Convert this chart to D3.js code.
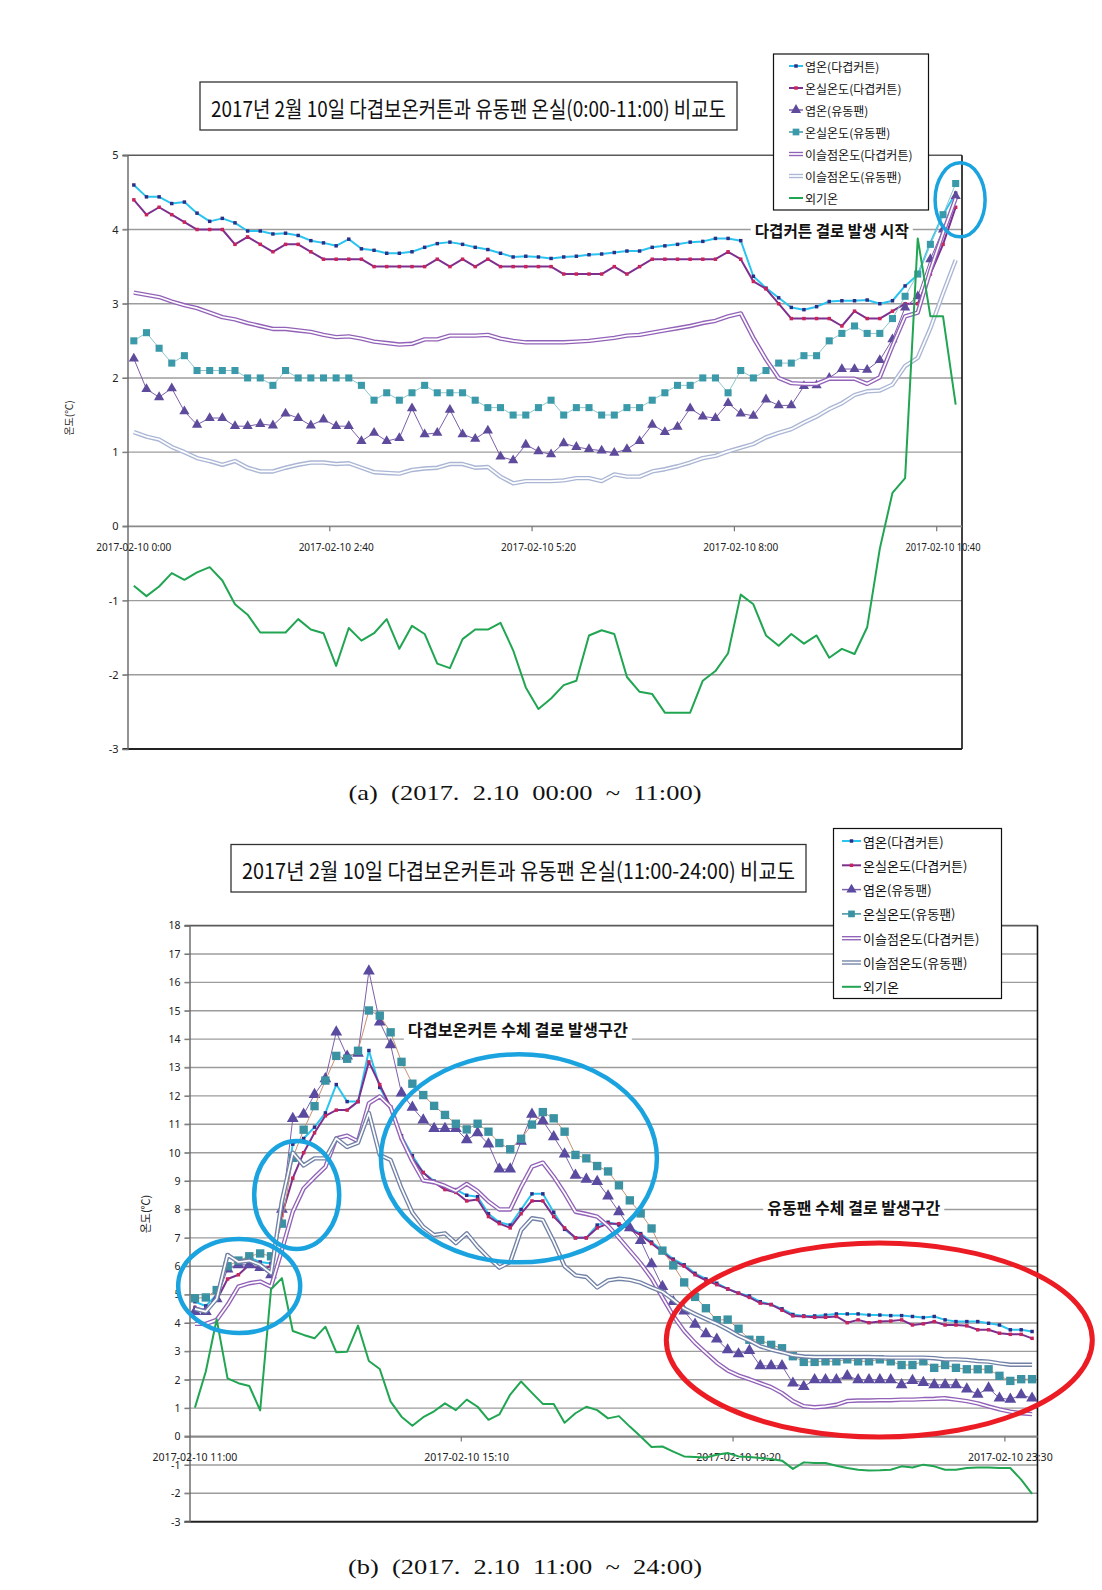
<!DOCTYPE html>
<html><head><meta charset="utf-8">
<script src="https://cdn.jsdelivr.net/npm/d3@7"></script>
<style>body{margin:0;background:#fff}svg{display:block}</style>
</head><body>
<svg id="c" width="1102" height="1590"></svg>
<script>
// ---------- DATA ----------
const seriesNames = ["엽온(다겹커튼)","온실온도(다겹커튼)","엽온(유동팬)","온실온도(유동팬)","이슬점온도(다겹커튼)","이슬점온도(유동팬)","외기온"];
function timeCats(startMin, n){ return d3.range(n).map(i=>{const m=startMin+i*10; return "2017-02-10 "+Math.floor(m/60)+":"+String(m%60).padStart(2,"0");}); }
const catsA = timeCats(0, 66);
const catsB = timeCats(660, 78);
const tickLabelsA = ["2017-02-10 0:00","2017-02-10 2:40","2017-02-10 5:20","2017-02-10 8:00","2017-02-10 10:40"];
const tickLabelsB = ["2017-02-10 11:00","2017-02-10 15:10","2017-02-10 19:20","2017-02-10 23:30"];
const yTicksA = [-3,-2,-1,0,1,2,3,4,5];
const yTicksB = d3.range(-3,19);

// chart (a) 0:00-10:50
const leafCurtainA = [4.60,4.44,4.44,4.35,4.37,4.22,4.11,4.15,4.09,3.98,3.98,3.94,3.95,3.92,3.85,3.82,3.78,3.87,3.74,3.72,3.68,3.68,3.70,3.76,3.81,3.83,3.80,3.76,3.73,3.68,3.63,3.64,3.63,3.61,
 3.63,3.64,3.66,3.67,3.69,3.71,3.71,3.76,3.78,3.80,3.83,3.84,3.88,3.88,3.85,3.37,3.21,3.08,2.95,2.92,2.96,3.03,3.04,3.04,3.05,3.00,3.04,3.24,3.39,3.82,4.20,4.49];
const airCurtainA = [4.40,4.20,4.30,4.20,4.10,4.00,4.00,4.00,3.80,3.90,3.80,3.70,3.80,3.80,3.70,3.60,3.60,3.60,3.60,3.50,3.50,3.50,3.50,3.50,3.60,3.50,3.60,3.50,3.60,3.50,3.50,3.50,3.50,3.50,
 3.40,3.40,3.40,3.40,3.50,3.40,3.50,3.60,3.60,3.60,3.60,3.60,3.60,3.70,3.60,3.30,3.20,3.00,2.80,2.80,2.80,2.80,2.70,2.90,2.80,2.80,2.90,3.00,3.00,3.40,3.80,4.30];
const leafFanA = [2.26,1.85,1.74,1.86,1.55,1.37,1.46,1.46,1.35,1.35,1.38,1.36,1.52,1.46,1.36,1.44,1.35,1.35,1.15,1.26,1.15,1.19,1.59,1.24,1.26,1.57,1.24,1.18,1.29,0.94,0.89,1.10,1.01,0.97,
 1.12,1.07,1.04,1.02,0.99,1.04,1.15,1.37,1.27,1.34,1.59,1.48,1.46,1.66,1.52,1.49,1.71,1.63,1.63,1.89,1.90,2.00,2.12,2.12,2.11,2.24,2.52,2.95,3.10,3.60,4.00,4.45];
const airFanA = [2.50,2.61,2.40,2.20,2.30,2.10,2.10,2.10,2.10,2.00,2.00,1.90,2.10,2.00,2.00,2.00,2.00,2.00,1.90,1.70,1.80,1.70,1.80,1.90,1.80,1.80,1.80,1.70,1.60,1.60,1.50,1.50,1.60,1.70,
 1.50,1.60,1.60,1.50,1.50,1.60,1.60,1.70,1.80,1.90,1.90,2.00,2.00,1.80,2.10,2.00,2.10,2.20,2.20,2.30,2.30,2.50,2.60,2.70,2.60,2.60,2.80,3.10,3.40,3.80,4.20,4.62];
const dewCurtainA = [3.15,3.12,3.09,3.03,2.98,2.94,2.88,2.82,2.79,2.74,2.70,2.66,2.66,2.64,2.62,2.58,2.55,2.56,2.53,2.49,2.47,2.45,2.46,2.52,2.52,2.57,2.57,2.57,2.58,2.53,2.50,2.48,2.48,2.48,
 2.48,2.49,2.50,2.52,2.54,2.57,2.58,2.61,2.64,2.67,2.70,2.74,2.77,2.83,2.87,2.54,2.25,2.00,1.93,1.92,1.92,1.99,1.99,1.99,1.92,2.01,2.43,2.83,2.88,3.45,3.95,4.42];
const dewFanA = [1.27,1.21,1.17,1.07,1.00,0.92,0.88,0.83,0.88,0.79,0.74,0.74,0.79,0.83,0.86,0.86,0.84,0.85,0.79,0.73,0.72,0.71,0.76,0.78,0.79,0.84,0.84,0.79,0.80,0.67,0.58,0.61,0.61,0.61,
 0.62,0.65,0.65,0.61,0.70,0.67,0.67,0.74,0.77,0.81,0.86,0.92,0.95,1.01,1.06,1.11,1.20,1.26,1.31,1.40,1.48,1.58,1.66,1.77,1.82,1.83,1.91,2.16,2.27,2.67,3.14,3.59];
const outsideA = [-0.80,-0.94,-0.81,-0.63,-0.72,-0.62,-0.55,-0.73,-1.05,-1.19,-1.43,-1.43,-1.43,-1.25,-1.39,-1.44,-1.88,-1.37,-1.54,-1.44,-1.25,-1.65,-1.34,-1.45,-1.85,-1.91,-1.52,-1.39,-1.39,-1.30,-1.67,-2.17,-2.46,-2.32,
 -2.14,-2.08,-1.47,-1.40,-1.45,-2.03,-2.23,-2.26,-2.51,-2.51,-2.51,-2.08,-1.95,-1.71,-0.92,-1.05,-1.47,-1.61,-1.45,-1.58,-1.47,-1.77,-1.65,-1.72,-1.36,-0.30,0.45,0.65,3.88,2.83,2.83,1.64];

// chart (b) 11:00-23:50
const leafCurtainB = [4.75,4.60,5.00,6.40,6.20,6.30,6.15,6.10,8.00,10.3, 10.5,10.9,11.4,12.4,11.8,11.8,13.6,12.3,11.6,10.6,
 9.90,9.30,9.00,8.80,8.70,8.50,8.45,7.85,7.55,7.45, 8.00,8.55,8.55,7.90,7.30,7.00,7.00,7.45,7.55,7.45,
 7.35,7.15,6.85,6.55,6.25,6.05,5.75,5.55,5.40,5.20, 5.05,4.95,4.75,4.65,4.50,4.30,4.25,4.25,4.28,4.32,
 4.32,4.32,4.28,4.28,4.26,4.26,4.23,4.19,4.23,4.11, 4.05,4.05,4.05,3.99,3.93,3.76,3.76,3.70];
const airCurtainB = [4.55,4.45,4.80,5.55,5.70,6.05,5.90,6.00,7.80,9.10, 10.0,10.7,11.3,11.5,11.5,11.8,13.2,12.4,11.6,10.5,
 9.80,9.30,8.95,8.70,8.60,8.30,8.35,7.75,7.50,7.35, 7.85,8.30,8.30,7.75,7.35,7.00,7.00,7.35,7.50,7.50,
 7.30,7.10,6.80,6.50,6.20,6.00,5.70,5.50,5.35,5.20, 5.05,4.90,4.70,4.65,4.45,4.25,4.23,4.20,4.20,4.23,
 4.01,4.11,4.01,4.05,4.07,4.11,3.93,3.97,4.05,3.93, 3.93,3.90,3.76,3.76,3.64,3.60,3.60,3.46];
const leafFanB = [4.40,4.40,4.85,5.90,6.05,6.05,5.95,5.70,8.00,11.2, 11.35,12.05,12.6,14.25,13.4,13.5,16.4,14.6,13.8,12.1,
 11.6,11.15,10.85,10.85,10.85,10.45,10.7,10.3,9.42,9.42, 10.4,11.35,11.12,10.56,9.95,9.20,9.06,8.98,8.47,7.92,
 7.35,6.90,6.08,5.28,4.75,4.42,3.95,3.62,3.43,3.05, 2.91,3.03,2.49,2.49,2.49,1.88,1.76,2.00,2.00,2.00,
 2.14,2.00,2.00,2.00,2.00,1.82,1.97,1.90,1.82,1.82, 1.82,1.67,1.49,1.71,1.35,1.31,1.47,1.35];
const airFanB = [4.87,4.90,5.16,6.00,6.20,6.35,6.45,6.35,7.50,9.82, 10.81,11.64,12.54,13.41,13.31,13.59,15.01,14.83,14.24,13.2,
 12.43,12.03,11.65,11.33,11.02,10.82,11.02,10.74,10.34,10.12, 10.49,10.99,11.43,11.21,10.74,9.92,9.80,9.53,9.34,8.85,
 8.32,7.86,7.33,6.55,6.03,5.43,4.92,4.52,4.10,4.12, 3.80,3.41,3.40,3.23,3.11,2.83,2.63,2.63,2.65,2.65,
 2.72,2.65,2.65,2.72,2.65,2.52,2.52,2.65,2.42,2.52, 2.42,2.37,2.37,2.37,2.14,1.96,2.02,2.02];
const dewCurtainB = [3.97,3.97,4.11,4.64,5.28,5.40,5.46,5.28,6.57,7.92, 8.74,9.13,9.50,10.5,10.6,10.4,11.74,11.98,11.61,10.5,
 9.70,9.02,8.96,8.83,8.65,8.90,8.65,8.28,8.00,8.00, 8.80,9.51,9.65,9.15,8.57,7.92,7.84,7.75,7.42,7.00,
 6.55,6.10,5.58,4.90,4.25,3.72,3.30,2.95,2.60,2.33, 2.15,2.02,1.88,1.74,1.53,1.25,1.07,1.03,1.06,1.12,
 1.25,1.27,1.27,1.28,1.28,1.30,1.30,1.32,1.33,1.35, 1.30,1.25,1.17,1.06,0.96,0.88,0.82,0.79];
const dewFanB = [4.50,4.40,4.85,6.40,6.15,6.20,6.05,5.75,8.30,10.0, 9.55,9.80,9.80,10.5,10.2,10.35,11.4,9.92,9.74,8.74,
 7.89,7.39,7.10,7.16,6.81,7.16,6.69,6.30,5.95,6.15, 7.27,7.69,7.63,6.87,6.00,5.68,5.62,5.25,5.50,5.56,
 5.52,5.42,5.25,5.10,4.82,4.51,4.32,4.14,3.97,3.77, 3.55,3.38,3.18,3.06,2.97,2.87,2.82,2.80,2.80,2.80,
 2.80,2.80,2.80,2.79,2.78,2.78,2.78,2.78,2.76,2.72, 2.72,2.70,2.66,2.64,2.58,2.53,2.53,2.53];
const outsideB = [1.02,2.29,4.13,2.05,1.88,1.78,0.92,5.19,5.58,3.72, 3.58,3.46,3.87,2.97,2.99,3.91,2.66,2.38,1.23,0.70,
 0.38,0.68,0.89,1.17,0.93,1.30,1.05,0.59,0.78,1.48, 1.94,1.54,1.15,1.15,0.49,0.82,1.05,0.93,0.64,0.72,
 0.35,0.00,-0.37,-0.35,-0.53,-0.70,-0.72,-0.74,-0.64,-0.58, -0.70,-0.72,-0.76,-0.79,-0.85,-1.14,-0.91,-0.93,-0.93,-1.03,
 -1.11,-1.17,-1.20,-1.19,-1.17,-1.05,-1.09,-0.99,-1.05,-1.17, -1.17,-1.11,-1.09,-1.09,-1.11,-1.11,-1.52,-2.02];

// ---------- DRAW ----------
const KR = '"Noto Sans CJK KR","Noto Sans",sans-serif';
const svg = d3.select("#c");
svg.append("rect").attr("width",1102).attr("height",1590).attr("fill","#fff");

function squeeze(t, width){ t.attr("textLength",width).attr("lengthAdjust","spacingAndGlyphs"); }

function drawChart(cfg){
  const g = svg.append("g");
  const x = d3.scaleBand().domain(cfg.cats).range([cfg.left,cfg.right]).padding(0);
  const y = d3.scaleLinear().domain([cfg.ymin,cfg.ymax]).range([cfg.bottom,cfg.top]);
  const cx = i => x(cfg.cats[i]) + x.bandwidth()/2;

  // gridlines
  g.append("g").selectAll("line").data(cfg.yTicks.filter(t=>t!==cfg.ymin&&t!==cfg.ymax&&t!==0)).join("line")
    .attr("x1",cfg.left-5).attr("x2",cfg.right).attr("y1",d=>y(d)).attr("y2",d=>y(d))
    .attr("stroke","#9c9c9c").attr("stroke-width",1.4);
  // plot border
  g.append("line").attr("x1",cfg.left-5).attr("x2",cfg.right).attr("y1",y(cfg.ymax)).attr("y2",y(cfg.ymax)).attr("stroke","#5a5a5a").attr("stroke-width",1.6);
  g.append("line").attr("x1",cfg.right).attr("x2",cfg.right).attr("y1",y(cfg.ymax)).attr("y2",y(cfg.ymin)).attr("stroke","#111").attr("stroke-width",1.6);
  g.append("line").attr("x1",cfg.left-5).attr("x2",cfg.right).attr("y1",y(cfg.ymin)).attr("y2",y(cfg.ymin)).attr("stroke","#222").attr("stroke-width",2);
  // zero (category) axis
  g.append("line").attr("x1",cfg.left-5).attr("x2",cfg.right).attr("y1",y(0)).attr("y2",y(0)).attr("stroke","#8a8a8a").attr("stroke-width",cfg.zeroW);
  // category tick marks at boundaries
  g.append("g").selectAll("line").data(cfg.tickIdx.filter(i=>i>0)).join("line")
    .attr("x1",i=>x(cfg.cats[i])).attr("x2",i=>x(cfg.cats[i])).attr("y1",y(0)).attr("y2",y(0)+5)
    .attr("stroke","#777").attr("stroke-width",1.2);
  // y axis
  const ay = g.append("g").attr("transform",`translate(${cfg.left},0)`)
    .call(d3.axisLeft(y).tickValues(cfg.yTicks).tickSize(5).tickPadding(4).tickFormat(d=>String(d)));
  ay.select(".domain").attr("stroke","#666").attr("stroke-width",1.4);
  ay.selectAll(".tick line").attr("stroke","#777");
  ay.selectAll(".tick text").attr("font-family",'"Noto Sans",sans-serif').attr("font-size",cfg.ytFont).attr("fill","#222");
  // category labels
  g.append("g").selectAll("text").data(cfg.tickIdx).join("text")
    .attr("x",(d,k)=>cx(d)).attr("y",y(0)+cfg.labelDy).attr("text-anchor","middle").attr("dominant-baseline","central")
    .attr("font-family",'"Noto Sans",sans-serif').attr("font-size",10).attr("fill","#222")
    .text((d,k)=>cfg.tickLabels[k]).each(function(){ const t=d3.select(this); squeeze(t, cfg.tickLabels[0].length*cfg.charW); });
  // y title
  g.append("text").attr("transform",`translate(${cfg.ytitleX},${cfg.ytitleY}) rotate(-90)`).attr("text-anchor","middle")
    .attr("dominant-baseline","central").attr("font-family",KR).attr("font-size",cfg.ytitleFont).attr("fill","#222").text("온도(℃)");

  // series
  const line = d3.line().x((d,i)=>cx(i)).y(d=>y(d));
  cfg.series.forEach(s=>{
    if(s.dbl){
      g.append("path").attr("d",line(s.v)).attr("fill","none").attr("stroke",s.color).attr("stroke-width",4.4).attr("stroke-linejoin","round");
      g.append("path").attr("d",line(s.v)).attr("fill","none").attr("stroke","#fff").attr("stroke-width",1.7).attr("stroke-linejoin","round");
    } else {
      g.append("path").attr("d",line(s.v)).attr("fill","none").attr("stroke",s.color).attr("stroke-width",s.w).attr("stroke-linejoin","round");
    }
    if(s.marker){
      g.append("g").selectAll("path").data(s.v).join("path")
        .attr("transform",(d,i)=>`translate(${cx(i)},${y(d)})`)
        .attr("d",d3.symbol(s.marker,s.size)()).attr("fill",s.mfill).attr("stroke",s.mstroke||"none").attr("stroke-width",0.6);
    }
  });

  // annotation texts (white background hides gridline)
  cfg.notes.forEach(n=>{
    const px=cx(0)+(n.i)*x.step(), py=y(n.v);
    g.append("rect").attr("x",px-n.w/2-4).attr("y",py-n.h/2).attr("width",n.w+8).attr("height",n.h).attr("fill","#fff");
    const t=g.append("text").attr("x",px).attr("y",py+n.dy).attr("text-anchor","middle").attr("dominant-baseline","central")
      .attr("font-family",KR).attr("font-weight",700).attr("font-size",n.fs).attr("fill","#111").text(n.text);
    squeeze(t,n.w);
  });
  // ellipses
  cfg.ellipses.forEach(e=>{
    g.append("ellipse").attr("cx",cx(0)+e.i*x.step()).attr("cy",y(e.v)).attr("rx",e.rx).attr("ry",e.ry)
      .attr("fill","none").attr("stroke",e.color).attr("stroke-width",e.sw);
  });

  // title box
  const tb=cfg.title;
  g.append("rect").attr("x",tb.x).attr("y",tb.y).attr("width",tb.w).attr("height",tb.h).attr("fill","#fff").attr("stroke","#333").attr("stroke-width",1.3);
  const tt=g.append("text").attr("x",tb.x+tb.w/2).attr("y",tb.y+tb.h/2+1).attr("text-anchor","middle").attr("dominant-baseline","central")
    .attr("font-family",KR).attr("font-size",tb.fs).attr("fill","#111").text(tb.text);
  squeeze(tt,tb.tw);

  // legend
  const L=cfg.legend;
  g.append("rect").attr("x",L.x).attr("y",L.y).attr("width",L.w).attr("height",L.h).attr("fill","#fff").attr("stroke","#111").attr("stroke-width",1.2);
  cfg.series.forEach((s,k)=>{
    const yy=L.y0+k*L.dy;
    if(s.dbl){
      g.append("line").attr("x1",L.mx1).attr("x2",L.mx2).attr("y1",yy).attr("y2",yy).attr("stroke",s.color).attr("stroke-width",4.4);
      g.append("line").attr("x1",L.mx1).attr("x2",L.mx2).attr("y1",yy).attr("y2",yy).attr("stroke","#fff").attr("stroke-width",1.7);
    } else {
      g.append("line").attr("x1",L.mx1).attr("x2",L.mx2).attr("y1",yy).attr("y2",yy).attr("stroke",s.legColor||s.color).attr("stroke-width",Math.max(s.w,1.5));
    }
    if(s.marker){
      g.append("path").attr("transform",`translate(${(L.mx1+L.mx2)/2},${yy})`).attr("d",d3.symbol(s.marker,Math.min(s.size,45))()).attr("fill",s.mfill);
    }
    g.append("text").attr("x",L.tx).attr("y",yy).attr("dominant-baseline","central").attr("font-family",KR)
      .attr("font-size",L.fs).attr("fill","#111").text(seriesNames[k]);
  });

  // caption
  const c=cfg.caption;
  const ct=svg.append("text").attr("x",c.x).attr("y",c.y).attr("text-anchor","middle").attr("dominant-baseline","central")
    .attr("font-family",'"Liberation Serif","DejaVu Serif",serif').attr("font-size",22).attr("fill","#111")
    .style("white-space","pre").text(c.text);
  squeeze(ct,c.w);
}

drawChart({
  cats:catsA, left:127.5, right:962, top:155.3, bottom:749, ymin:-3, ymax:5, yTicks:yTicksA,
  tickIdx:[0,16,32,48,64], tickLabels:tickLabelsA, labelDy:21, charW:5.0, zeroW:1.6, ytFont:11,
  ytitleX:68, ytitleY:418, ytitleFont:10,
  series:[
    {v:leafCurtainA,color:"#2ac4ef",w:2,marker:d3.symbolSquare,size:12,mfill:"#2e2e86"},
    {v:airCurtainA,color:"#7e2f8e",w:2,marker:d3.symbolSquare,size:12,mfill:"#c8235a"},
    {v:leafFanA,color:"#7d5ea8",w:1,marker:d3.symbolTriangle,size:45,mfill:"#5f4b9c"},
    {v:airFanA,color:"#8ec6cd",w:1,marker:d3.symbolSquare,size:50,mfill:"#3b9aa9",legColor:"#3b9aa9"},
    {v:dewCurtainA,color:"#9262b8",dbl:true},
    {v:dewFanA,color:"#aab6d4",dbl:true},
    {v:outsideA,color:"#21a552",w:2}
  ],
  notes:[{i:55.2,v:4.0,text:"다겹커튼 결로 발생 시작",w:154,h:20,fs:16,dy:0}],
  ellipses:[{i:65.35,v:4.40,rx:25,ry:37,color:"#1aa3df",sw:3.5}],
  title:{x:200,y:82,w:537,h:48,fs:22,tw:515,text:"2017년 2월 10일 다겹보온커튼과 유동팬 온실(0:00-11:00) 비교도"},
  legend:{x:773.5,y:54,w:155,h:156,y0:66,dy:22,mx1:789,mx2:803,tx:805,fs:12},
  caption:{x:525,y:792,w:353,text:"(a)  (2017.  2.10  00:00  ~  11:00)"}
});

drawChart({
  cats:catsB, left:189.5, right:1037.5, top:925.6, bottom:1521.7, ymin:-3, ymax:18, yTicks:yTicksB,
  tickIdx:[0,25,50,75], tickLabels:tickLabelsB, labelDy:20, charW:5.3, zeroW:2.2, ytFont:10.5,
  ytitleX:145, ytitleY:1214, ytitleFont:11,
  series:[
    {v:leafCurtainB,color:"#2ac4ef",w:2,marker:d3.symbolSquare,size:12,mfill:"#2e2e86"},
    {v:airCurtainB,color:"#7e2f8e",w:2,marker:d3.symbolSquare,size:12,mfill:"#c8235a"},
    {v:leafFanB,color:"#7d5ea8",w:1,marker:d3.symbolTriangle,size:60,mfill:"#5a4aa0"},
    {v:airFanB,color:"#c99070",w:1,marker:d3.symbolSquare,size:70,mfill:"#3a92a2",legColor:"#3a92a2"},
    {v:dewCurtainB,color:"#9262b8",dbl:true},
    {v:dewFanB,color:"#7282a6",dbl:true},
    {v:outsideB,color:"#21a552",w:2}
  ],
  notes:[{i:29.7,v:14.35,text:"다겹보온커튼 수체 결로 발생구간",w:220,h:22,fs:16,dy:0},
         {i:60.6,v:8.1,text:"유동팬 수체 결로 발생구간",w:173,h:20,fs:16,dy:0}],
  ellipses:[{i:4.07,v:5.30,rx:61,ry:47,color:"#1aa3df",sw:4.5},
            {i:9.36,v:8.51,rx:42.5,ry:54,color:"#1aa3df",sw:4.5},
            {i:29.8,v:9.8,rx:138,ry:104,color:"#1aa3df",sw:4.5},
            {i:62.95,v:3.40,rx:213,ry:97,color:"#ec1c24",sw:5}],
  title:{x:231,y:844.5,w:575,h:47.5,fs:22,tw:553,text:"2017년 2월 10일 다겹보온커튼과 유동팬 온실(11:00-24:00) 비교도"},
  legend:{x:833.5,y:828.5,w:168,h:170,y0:841,dy:24.3,mx1:842,mx2:861,tx:863,fs:13},
  caption:{x:525,y:1566,w:354,text:"(b)  (2017.  2.10  11:00  ~  24:00)"}
});
</script>
</body></html>
